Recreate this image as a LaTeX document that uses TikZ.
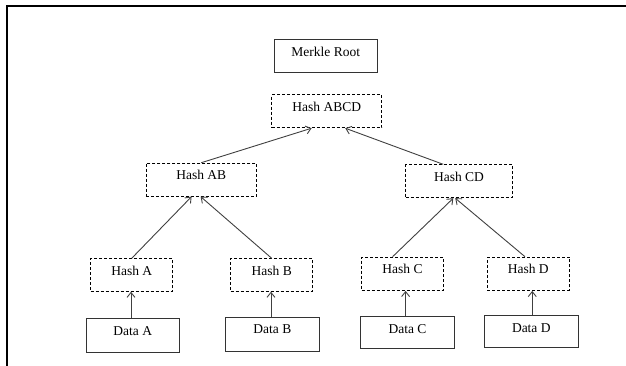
\documentclass[tikz,border=0pt]{standalone}
\usepackage{fontspec}
\setmainfont{Liberation Serif}
\usetikzlibrary{calc,arrows.meta}
\newcommand{\fsz}{\fontsize{13.5}{16}\selectfont}
\tikzset{
  solidbox/.style={draw=black!80, line width=1.1pt, inner sep=0pt, text height=16.5pt, text depth=16.5pt, anchor=north, font=\fsz},
  dashbox/.style={solidbox, draw=black, line width=0.9pt, dash pattern=on 3pt off 2pt},
  arr/.style={draw=black!75, line width=0.9pt, -{Straight Barb[length=5pt,width=8pt]}},
  frame/.style={draw=black, line width=2pt}
}
\begin{document}
\begin{tikzpicture}[x=1pt,y=-1pt]
\useasboundingbox (0,0) rectangle (626,366);
\draw[frame] (6.5,366) -- (6.5,6.5) -- (626,6.5);

\node[solidbox, minimum width=103.3pt] (root) at (325.7,39.3) {Merkle Root};
\node[dashbox, minimum width=110pt] (HashABCD) at (326.7,94.3) {Hash ABCD};
\node[dashbox, minimum width=110.7pt] (HashAB) at (201.3,162.7) {Hash AB};
\node[dashbox, minimum width=106.6pt] (HashCD) at (459,164.3) {Hash CD};
\node[dashbox, minimum width=82pt, text depth=16pt] (HashA) at (131.7,258.3) {Hash A};
\node[dashbox, minimum width=82pt, text depth=16pt] (HashB) at (271.7,258.3) {Hash B};
\node[dashbox, minimum width=81.6pt, text depth=16.8pt] (HashC) at (402.5,256.7) {Hash C};
\node[dashbox, minimum width=82pt, text depth=16.8pt] (HashD) at (528.3,256.7) {Hash D};
\node[solidbox, minimum width=93.3pt, text depth=17.5pt] (DataA) at (132.7,318.3) {Data A};
\node[solidbox, minimum width=94pt, text depth=17.5pt] (DataB) at (272.4,316.7) {Data B};
\node[solidbox, minimum width=93.6pt, text depth=15.8pt] (DataC) at (407.5,316) {Data C};
\node[solidbox, minimum width=94pt, text depth=15.8pt] (DataD) at (531.3,315) {Data D};

\draw[arr] (HashAB.north) -- ($(HashABCD.south west)!0.364!(HashABCD.south east)$);
\draw[arr] ($(HashCD.north west)!0.353!(HashCD.north east)$) -- ($(HashABCD.south west)!0.667!(HashABCD.south east)$);
\draw[arr] (HashA.north) -- ($(HashAB.south west)!0.413!(HashAB.south east)$);
\draw[arr] (HashB.north) -- ($(HashAB.south west)!0.494!(HashAB.south east)$);
\draw[arr] ($(HashC.north west)!0.38!(HashC.north east)$) -- ($(HashCD.south west)!0.447!(HashCD.south east)$);
\draw[arr] ($(HashD.north west)!0.46!(HashD.north east)$) -- ($(HashCD.south west)!0.465!(HashCD.south east)$);

\coordinate (da) at ($(DataA.north west)!0.482!(DataA.north east)$);
\coordinate (db) at ($(DataB.north west)!0.485!(DataB.north east)$);
\coordinate (dc) at ($(DataC.north west)!0.48!(DataC.north east)$);
\coordinate (dd) at ($(DataD.north west)!0.51!(DataD.north east)$);
\draw[arr] (da) -- (da |- HashA.south);
\draw[arr] (db) -- (db |- HashB.south);
\draw[arr] (dc) -- (dc |- HashC.south);
\draw[arr] (dd) -- (dd |- HashD.south);
\end{tikzpicture}
\end{document}
